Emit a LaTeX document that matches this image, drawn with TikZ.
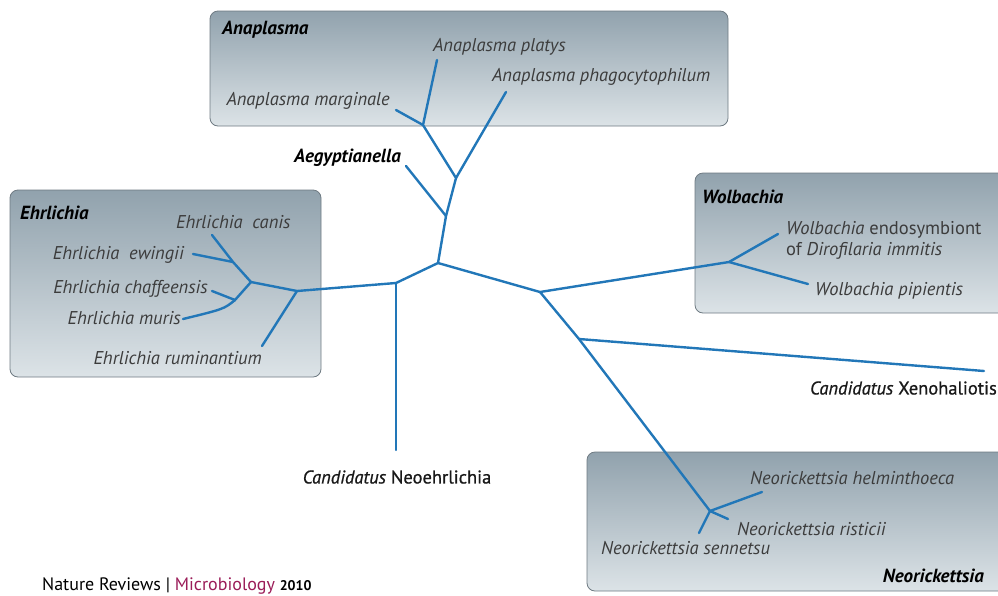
\documentclass[tikz,border=0pt]{standalone}
\usepackage{fontspec}
\setmainfont{PT Sans}
\newfontfamily\medfont[FakeBold=0.8]{PT Sans}
\usetikzlibrary{positioning}
\definecolor{treeblue}{HTML}{2277B8}
\definecolor{boxtop}{HTML}{91A2AD}
\definecolor{boxbot}{HTML}{DCE3E7}
\definecolor{boxline}{HTML}{6E7A82}
\definecolor{labgray}{HTML}{3C3C3C}
\definecolor{nrmagenta}{HTML}{9A1C58}

\begin{document}
\begin{tikzpicture}[
  x=1pt, y=-1pt,
  genus/.style={
    draw=boxline,
    line width=0.8pt,
    rounded corners=8pt,
    top color=boxtop,
    bottom color=boxbot
  },
  branch/.style={treeblue, line width=2.4pt, line cap=round},
  sp/.style={font=\fontsize{18.5}{21}\selectfont\itshape, text=labgray, inner sep=0pt},
  gname/.style={font=\fontsize{19}{21}\selectfont\bfseries\itshape, inner sep=0pt},
  cand/.style={font=\fontsize{18.5}{21}\selectfont\medfont, text=black!90, inner sep=0pt}
]
  \clip (0,0) rectangle (998,595);

  % genus boxes
  \path[genus] (210,11) rectangle (728,126);
  \path[genus] (10,190) rectangle (321,377);
  \path[genus] (695,173) rectangle (1010,313);
  \path[genus] (587,452) rectangle (1010,591);

  \node[gname, anchor=west] (anabox) at (222,30) {Anaplasma};
  \node[gname, anchor=west] (ehrbox) at (20,213) {Ehrlichia};
  \node[gname, anchor=west] (wolbox) at (702,197) {Wolbachia};
  \node[gname, anchor=east] (neobox) at (984,576) {Neorickettsia};

  % tree junctions and tips
  \coordinate (root) at (438,263);
  \coordinate (aeg) at (446,216);
  \coordinate (ana) at (456,178);
  \coordinate (marg) at (423,125);
  \coordinate (platys-t) at (437,60);
  \coordinate (marg-t) at (396,110);
  \coordinate (phago-t) at (506,92);
  \coordinate (aeg-t) at (406,166);

  \coordinate (neoe) at (396,283);
  \coordinate (neoe-t) at (396,450);
  \coordinate (ehr) at (297,291);
  \coordinate (rum-t) at (262,346);
  \coordinate (ehr2) at (251,282);
  \coordinate (cw) at (233,262);
  \coordinate (canis-t) at (212,235);
  \coordinate (ewin-t) at (193,254);
  \coordinate (cm) at (235,300);
  \coordinate (chaf-t) at (212,291);
  \coordinate (muris-t) at (183,319);

  \coordinate (right) at (540,292);
  \coordinate (wol) at (729,262);
  \coordinate (dir-t) at (778,234);
  \coordinate (pip-t) at (808,284);
  \coordinate (xeno) at (579,339);
  \coordinate (xeno-t) at (984,371);
  \coordinate (neor) at (710,511);
  \coordinate (helm-t) at (762,492);
  \coordinate (rist-t) at (728,519);
  \coordinate (senn-t) at (699,533);

  \draw[branch] (root) -- (aeg) -- (ana) -- (marg) -- (platys-t);
  \draw[branch] (marg) -- (marg-t);
  \draw[branch] (ana) -- (phago-t);
  \draw[branch] (aeg) -- (aeg-t);

  \draw[branch] (root) -- (neoe) -- (ehr) -- (ehr2) -- (cw) -- (canis-t);
  \draw[branch] (neoe) -- (neoe-t);
  \draw[branch] (ehr) -- (rum-t);
  \draw[branch] (cw) -- (ewin-t);
  \draw[branch] (ehr2) -- (cm) -- (chaf-t);
  \draw[branch] (cm) .. controls (224,309) .. (muris-t);

  \draw[branch] (root) -- (right) -- (wol) -- (dir-t);
  \draw[branch] (wol) -- (pip-t);
  \draw[branch] (right) -- (xeno) -- (xeno-t);
  \draw[branch] (xeno) -- (neor) -- (helm-t);
  \draw[branch] (neor) -- (rist-t);
  \draw[branch] (neor) -- (senn-t);

  % species labels
  \node[sp, anchor=west] (platys) at (433,47) {Anaplasma platys};
  \node[sp, anchor=west] (phago) at (492,77) {Anaplasma phagocytophilum};
  \node[sp, anchor=east] (margl) at (390,101) {Anaplasma marginale};
  \node[gname, anchor=east] (aegl) at (401,158) {Aegyptianella};

  \node[sp, anchor=west] (canis) at (176,222) {Ehrlichia~~canis};
  \node[sp, anchor=east] (ewin) at (184,255) {Ehrlichia~~ewingii};
  \node[sp, anchor=east] (chaf) at (208,289) {Ehrlichia chaffeensis};
  \node[sp, anchor=east] (muris) at (181,318) {Ehrlichia muris};
  \node[sp, anchor=east] (rum) at (262,358) {Ehrlichia ruminantium};

  \node[sp, anchor=north west, align=left] (dir) at (786,221)
    {Wolbachia \upshape endosymbiont\\\upshape of \itshape Dirofilaria immitis};
  \node[sp, anchor=west] (pip) at (815,291) {Wolbachia pipientis};

  \node[cand, anchor=east] (xenol) at (997,388) {\textit{Candidatus} Xenohaliotis};
  \node[cand] (neoel) at (397,477) {\textit{Candidatus} Neoehrlichia};

  \node[sp, anchor=west] (helm) at (750,478) {Neorickettsia helminthoeca};
  \node[sp, anchor=west] (rist) at (737,529) {Neorickettsia risticii};
  \node[sp, anchor=west] (senn) at (601,548) {Neorickettsia sennetsu};

  \node[anchor=west, inner sep=0pt, font=\fontsize{18}{20}\selectfont] (journal) at (42,586)
    {Nature Reviews | \textcolor{nrmagenta}{Microbiology} {\fontsize{14}{16}\selectfont\bfseries 2010}};
\end{tikzpicture}
\end{document}
